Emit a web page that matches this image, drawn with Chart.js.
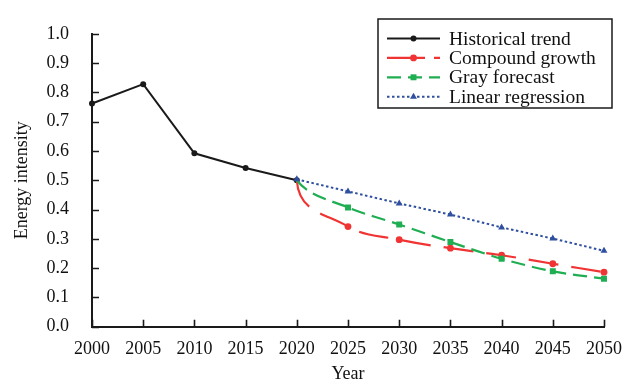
<!DOCTYPE html>
<html>
<head>
<meta charset="utf-8">
<script src="https://cdn.jsdelivr.net/npm/chart.js@4/dist/chart.umd.min.js"></script>
<style>
  html, body { margin: 0; padding: 0; background: #ffffff; }
  #wrap { width: 635px; height: 383px; position: relative; }
</style>
</head>
<body>
<div id="wrap"><canvas id="chart" width="635" height="383"></canvas></div>
<script>
// Energy intensity: historical values and three projection methods to 2050
const years = ['2000', '2005', '2010', '2015', '2020', '2025', '2030', '2035', '2040', '2045', '2050'];
const historicalTrend = [0.762, 0.828, 0.592, 0.542, 0.500, null, null, null, null, null, null];
const compoundGrowth  = [null, null, null, null, 0.500, 0.342, 0.297, 0.268, 0.244, 0.215, 0.186];
const grayForecast    = [null, null, null, null, 0.500, 0.407, 0.349, 0.289, 0.232, 0.189, 0.164];
const linearRegression = [null, null, null, null, 0.503, 0.462, 0.421, 0.383, 0.339, 0.301, 0.259];
const seriesNames = ['Historical trend', 'Compound growth', 'Gray forecast', 'Linear regression'];
const yTicks = [0.0, 0.1, 0.2, 0.3, 0.4, 0.5, 0.6, 0.7, 0.8, 0.9, 1.0];

const SERIF = '"Liberation Serif", "Times New Roman", serif';
const BLACK = '#1a1a1a';
const RED = '#f03434';
const GREEN = '#1fae52';
const BLUE = '#2f4f9f';
const FORECAST_START = 4; // index of 2020, where the projections branch off

// forecast series share the 2020 point with the historical line; no marker there
const hideFirst = r => ctx => (ctx.dataIndex === FORECAST_START ? 0 : r);

// smoothed projections leave 2020 with a steeper initial direction
const curveStart = {
  id: 'curveStart',
  beforeDatasetDraw(chart, args) {
    const ds = chart.data.datasets[args.index];
    if (!ds.startTangent) return;
    const line = args.meta.dataset;
    line.updateControlPoints(chart.chartArea, 'x');
    const p = args.meta.data[FORECAST_START];
    p.cp2x = p.x + ds.startTangent[0];
    p.cp2y = p.y + ds.startTangent[1];
  }
};

// inward tick marks on both axes
const inwardTicks = {
  id: 'inwardTicks',
  afterDraw(chart) {
    const { ctx, chartArea, scales } = chart;
    const len = 7;
    ctx.save();
    ctx.setLineDash([]);
    ctx.strokeStyle = BLACK;
    ctx.lineWidth = 1.6;
    ctx.beginPath();
    scales.x.ticks.forEach((t, i) => {
      const px = Math.round(scales.x.getPixelForTick(i)) + 0.5;
      ctx.moveTo(px, chartArea.bottom);
      ctx.lineTo(px, chartArea.bottom - len);
    });
    scales.y.ticks.forEach((t, i) => {
      const py = Math.round(scales.y.getPixelForTick(i)) + 0.5;
      ctx.moveTo(chartArea.left, py);
      ctx.lineTo(chartArea.left + len, py);
    });
    ctx.stroke();
    ctx.restore();
  }
};

// boxed legend: line sample with marker in the middle, then the series name
const boxedLegend = {
  id: 'boxedLegend',
  afterDraw(chart) {
    const { ctx } = chart;
    const box = { x: 378, y: 19, w: 234, h: 89 };
    const rowY0 = 38.5, rowGap = 19.4;
    const lineX0 = 387, lineX1 = 440, textX = 449;
    ctx.save();
    ctx.setLineDash([]);
    ctx.fillStyle = '#ffffff';
    ctx.fillRect(box.x, box.y, box.w, box.h);
    ctx.strokeStyle = BLACK;
    ctx.lineWidth = 1.5;
    ctx.strokeRect(box.x, box.y, box.w, box.h);
    chart.data.datasets.forEach((ds, i) => {
      const y = rowY0 + i * rowGap;
      ctx.save();
      ctx.strokeStyle = ds.borderColor;
      ctx.lineWidth = ds.borderWidth;
      ctx.setLineDash(ds.legendDash);
      ctx.beginPath();
      ctx.moveTo(lineX0, y);
      ctx.lineTo(lineX1, y);
      ctx.stroke();
      ctx.setLineDash([]);
      ctx.fillStyle = ds.borderColor;
      ctx.strokeStyle = ds.borderColor;
      Chart.helpers.drawPoint(ctx, {
        pointStyle: ds.pointStyle,
        radius: ds.legendRadius,
        borderWidth: 0,
        rotation: 0
      }, (lineX0 + lineX1) / 2, y);
      ctx.restore();
      ctx.fillStyle = '#111111';
      ctx.font = '19.5px ' + SERIF;
      ctx.textBaseline = 'middle';
      ctx.textAlign = 'left';
      ctx.fillText(ds.label, textX, y + 1);
    });
    ctx.restore();
  }
};

new Chart(document.getElementById('chart'), {
  type: 'line',
  data: {
    labels: years,
    datasets: [
      {
        label: seriesNames[0],
        data: historicalTrend,
        borderColor: BLACK,
        backgroundColor: BLACK,
        pointBackgroundColor: BLACK,
        pointBorderWidth: 0,
        borderWidth: 2,
        borderDash: [],
        legendDash: [],
        pointRadius: 3,
        legendRadius: 3,
        pointStyle: 'circle',
        tension: 0,
        order: 4
      },
      {
        label: seriesNames[1],
        data: compoundGrowth,
        borderColor: RED,
        backgroundColor: RED,
        pointBackgroundColor: RED,
        pointBorderWidth: 0,
        borderWidth: 2.2,
        borderDash: [30, 13],
        legendDash: [38, 9],
        pointRadius: hideFirst(3.4),
        legendRadius: 3.4,
        pointStyle: 'circle',
        tension: 0.4,
        startTangent: [2, 32],
        order: 3
      },
      {
        label: seriesNames[2],
        data: grayForecast,
        borderColor: GREEN,
        backgroundColor: GREEN,
        pointBackgroundColor: GREEN,
        pointBorderWidth: 0,
        borderWidth: 2.2,
        borderDash: [14, 7],
        legendDash: [14, 7],
        pointRadius: hideFirst(4.2),
        legendRadius: 4.2,
        pointStyle: 'rect',
        tension: 0.3,
        startTangent: [12, 16],
        order: 2
      },
      {
        label: seriesNames[3],
        data: linearRegression,
        borderColor: BLUE,
        backgroundColor: BLUE,
        pointBackgroundColor: BLUE,
        pointBorderWidth: 0,
        borderWidth: 2,
        borderDash: [2.5, 2.5],
        legendDash: [2.5, 2.5],
        pointRadius: 4,
        legendRadius: 4,
        pointStyle: 'triangle',
        tension: 0,
        order: 1
      }
    ]
  },
  options: {
    responsive: false,
    animation: false,
    devicePixelRatio: 1,
    spanGaps: false,
    layout: { padding: { top: 22, right: 31, left: 0, bottom: 0 } },
    plugins: {
      legend: { display: false },
      tooltip: { enabled: false }
    },
    scales: {
      x: {
        type: 'category',
        offset: false,
        grid: { display: false, drawTicks: false },
        border: { display: true, color: BLACK, width: 2 },
        ticks: {
          color: '#111111',
          font: { family: SERIF, size: 18 },
          padding: 12,
          autoSkip: false,
          maxRotation: 0
        },
        title: {
          display: true,
          text: 'Year',
          color: '#111111',
          font: { family: SERIF, size: 18, lineHeight: 1.0 },
          padding: { top: 0, bottom: 0 }
        },
        afterFit(scale) { scale.height = 56.3; }
      },
      y: {
        type: 'linear',
        min: 0,
        max: 1,
        grid: { display: false, drawTicks: false },
        border: { display: true, color: BLACK, width: 2 },
        afterBuildTicks(scale) { scale.ticks = yTicks.map(v => ({ value: v })); },
        ticks: {
          color: '#111111',
          font: { family: SERIF, size: 18 },
          padding: 23,
          callback: v => Number(v).toFixed(1)
        },
        title: {
          display: true,
          text: 'Energy intensity',
          color: '#111111',
          font: { family: SERIF, size: 18 },
          padding: { top: 11, bottom: 0 }
        },
        afterFit(scale) { scale.width = 92; }
      }
    }
  },
  plugins: [curveStart, inwardTicks, boxedLegend]
});
</script>
</body>
</html>
